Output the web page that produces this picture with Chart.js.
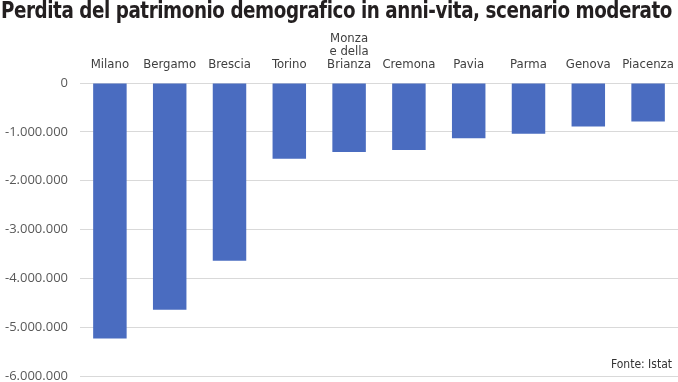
<!DOCTYPE html>
<html><head><meta charset="utf-8">
<script src="https://cdn.jsdelivr.net/npm/chart.js@4/dist/chart.umd.min.js"></script>
<style>
html,body{margin:0;padding:0;background:#fff;}
#wrap{position:relative;width:678px;height:382px;overflow:hidden;}
#title{position:absolute;left:1px;top:-3px;font-family:"DejaVu Sans Condensed","DejaVu Sans",sans-serif;font-weight:bold;font-size:23px;color:#231f20;white-space:nowrap;transform-origin:0 0;letter-spacing:-0.5px;}
#src{position:absolute;right:6px;top:357px;font-family:"DejaVu Sans Condensed","DejaVu Sans",sans-serif;font-size:12px;color:#333;}
canvas{position:absolute;left:0;top:0;}
</style></head>
<body><div id="wrap">
<canvas id="c" width="678" height="396"></canvas>
<div id="title">Perdita del patrimonio demografico in anni-vita, scenario moderato</div>
<div id="src">Fonte: Istat</div>
</div>
<script>
const categories = ["Milano","Bergamo","Brescia","Torino",["Monza","e della","Brianza"],"Cremona","Pavia","Parma","Genova","Piacenza"];
const values = [-5230000,-4640000,-3640000,-1550000,-1410000,-1370000,-1130000,-1040000,-890000,-790000];
const yTicks = [0,-1000000,-2000000,-3000000,-4000000,-5000000,-6000000];

function fmt(v){
  const s = Math.abs(v).toString().replace(/\B(?=(\d{3})+(?!\d))/g,".");
  return (v<0?"-":"")+s;
}
const t = document.getElementById('title');
const w = t.getBoundingClientRect().width;
t.style.transform = 'scaleX(' + (671/w) + ')';

new Chart(document.getElementById('c'),{
  type:'bar',
  data:{labels:categories,datasets:[{data:values,backgroundColor:'#4a6cc0',barPercentage:0.56,categoryPercentage:1}]},
  options:{
    responsive:false,animation:false,
    layout:{padding:{top:28,left:0,right:0,bottom:0}},
    plugins:{legend:{display:false},tooltip:{enabled:false}},
    scales:{
      x:{position:'top',grid:{display:false},border:{display:false},
         ticks:{color:'#404040',font:{family:'"DejaVu Sans Condensed","DejaVu Sans",sans-serif',size:13,lineHeight:1.0},padding:4,maxRotation:0,autoSkip:false}},
      y:{min:-6000000,max:0,afterBuildTicks:(s)=>{s.ticks=yTicks.map(v=>({value:v}));},
         afterFit:(s)=>{s.width=80;},
         grid:{color:'#d9d9d9',drawTicks:false,lineWidth:1},border:{display:false},
         ticks:{color:'#595959',font:{family:'"Open Sans",sans-serif',size:13},padding:12,callback:(v)=>fmt(v)}}
    }
  }
});
</script>
</body></html>
